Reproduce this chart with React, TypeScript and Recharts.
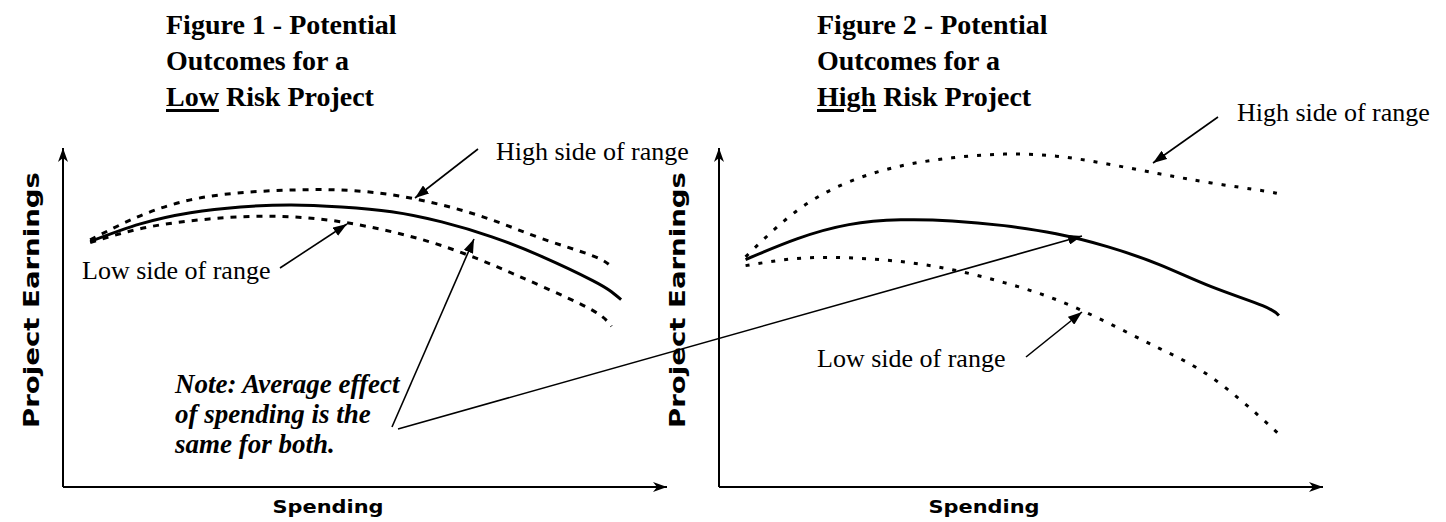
import { Line, LineChart, XAxis, YAxis } from "recharts";

// Spending positions (0–100 along each x axis) and earnings (0–100 up the y axis)
const spendLowRisk = [4.5, 12.8, 21.1, 29.4, 37.8, 46.1, 54.4, 62.7, 71.0, 79.4, 87.7, 90.8, 92.4];
const lowRiskAverage = [72.4, 77.6, 80.9, 82.6, 83.2, 82.6, 81.2, 78.2, 73.8, 67.9, 60.9, 57.6, 55.3];
const lowRiskHighSide = [72.9, 80.0, 84.7, 86.8, 87.6, 87.6, 86.2, 83.2, 78.8, 73.2, 68.2, 65.0, null];
const lowRiskLowSide = [72.1, 76.2, 78.5, 79.7, 79.7, 78.2, 75.3, 71.2, 65.6, 59.1, 52.1, 47.4, null];

const spendHighRisk = [4.4, 12.9, 21.5, 30.1, 38.6, 47.2, 55.8, 64.3, 72.9, 81.5, 90.0, 92.7];
const highRiskAverage = [67.1, 73.2, 77.4, 78.8, 78.5, 77.1, 74.7, 70.9, 65.6, 59.1, 53.5, 50.6];
const highRiskHighSide = [67.9, 81.5, 90.0, 94.7, 97.1, 98.2, 97.6, 95.3, 92.4, 89.7, 87.4, 86.5];
const highRiskLowSide = [65.3, 67.4, 67.6, 66.5, 64.1, 60.3, 55.3, 48.5, 40.9, 32.4, 20.0, 15.6];

const titles = [
  { lead: "Figure 1 - Potential", mid: "Outcomes for a", key: "Low", rest: " Risk Project" },
  { lead: "Figure 2 - Potential", mid: "Outcomes for a", key: "High", rest: " Risk Project" },
];
const noteLines = ["Note: Average effect", "of spending is the", "same for both."];

const rows = (spend: number[], avg: (number | null)[], hi: (number | null)[], lo: (number | null)[]) =>
  spend.map((s, i) => ({ spend: s, average: avg[i], high: hi[i], low: lo[i] }));

const lowRiskData = rows(spendLowRisk, lowRiskAverage, lowRiskHighSide, lowRiskLowSide);
const highRiskData = rows(spendHighRisk, highRiskAverage, highRiskHighSide, highRiskLowSide);

const W = 1446;
const H = 522;
const SERIF = "'Liberation Serif', 'Times New Roman', serif";
const HEAVY = "'DejaVu Sans', sans-serif";

function Panel({
  data,
  left,
  right,
  dash,
}: {
  data: typeof lowRiskData;
  left: number;
  right: number;
  dash: string;
}) {
  return (
    <div style={{ position: "absolute", left: 0, top: 0 }}>
      <LineChart width={W} height={H} data={data} margin={{ top: 148, bottom: H - 488, left: left - 1, right }}>
        <XAxis
          type="number"
          dataKey="spend"
          domain={[0, 100]}
          allowDataOverflow
          tick={false}
          tickLine={false}
          height={1}
          axisLine={{ stroke: "#000", strokeWidth: 2, markerEnd: "url(#axisHead)" }}
        />
        <YAxis
          type="number"
          domain={[0, 100]}
          allowDataOverflow
          tick={false}
          tickLine={false}
          width={1}
          axisLine={{ stroke: "#000", strokeWidth: 2, markerStart: "url(#axisHead)" }}
        />
        <Line type="natural" dataKey="high" stroke="#000" strokeWidth={3} strokeDasharray={dash} dot={false} isAnimationActive={false} />
        <Line type="natural" dataKey="low" stroke="#000" strokeWidth={3} strokeDasharray={dash} dot={false} isAnimationActive={false} />
        <Line type="natural" dataKey="average" stroke="#000" strokeWidth={3} dot={false} isAnimationActive={false} />
      </LineChart>
    </div>
  );
}

function Title({ t, x }: { t: (typeof titles)[number]; x: number }) {
  return (
    <div
      style={{
        position: "absolute",
        left: x,
        top: 7,
        fontFamily: SERIF,
        fontWeight: "bold",
        fontSize: 28,
        lineHeight: "36px",
        whiteSpace: "nowrap",
      }}
    >
      {t.lead}
      <br />
      {t.mid}
      <br />
      <span style={{ textDecoration: "underline", textDecorationThickness: 3, textUnderlineOffset: 3 }}>{t.key}</span>
      {t.rest}
    </div>
  );
}

const Arrow = ({ x1, y1, x2, y2 }: { x1: number; y1: number; x2: number; y2: number }) => (
  <line x1={x1} y1={y1} x2={x2} y2={y2} stroke="#000" strokeWidth={1.6} markerEnd="url(#noteHead)" />
);

export default function App() {
  return (
    <div style={{ position: "absolute", left: 0, top: 0, width: W, height: H, background: "#fff", overflow: "hidden" }}>
      <Panel data={lowRiskData} left={63} right={W - 667} dash="6 7" />
      <Panel data={highRiskData} left={719} right={W - 1323} dash="4 9" />
      <Title t={titles[0]} x={166} />
      <Title t={titles[1]} x={817} />
      <svg width={W} height={H} style={{ position: "absolute", left: 0, top: 0 }}>
        <defs>
          <marker id="axisHead" viewBox="0 0 14 10" refX="14" refY="5" markerWidth="14" markerHeight="10" markerUnits="userSpaceOnUse" orient="auto-start-reverse">
            <path d="M0,0 L14,5 L0,10 L4,5 Z" fill="#000" />
          </marker>
          <marker id="noteHead" viewBox="0 0 14 10" refX="14" refY="5" markerWidth="14" markerHeight="10" markerUnits="userSpaceOnUse" orient="auto">
            <path d="M0,0 L14,5 L0,10 Z" fill="#000" />
          </marker>
        </defs>

        {/* axis titles */}
        {[32, 678].map((cx) => (
          <text
            key={cx}
            transform={`translate(${cx},300) rotate(-90)`}
            textAnchor="middle"
            dominantBaseline="central"
            fontFamily={HEAVY}
            fontWeight="bold"
            fontSize={21}
            textLength={256}
            lengthAdjust="spacingAndGlyphs"
          >
            Project Earnings
          </text>
        ))}
        {[328, 984].map((cx) => (
          <text
            key={cx}
            x={cx}
            y={513}
            textAnchor="middle"
            fontFamily={HEAVY}
            fontWeight="bold"
            fontSize={18}
            textLength={111}
            lengthAdjust="spacingAndGlyphs"
          >
            Spending
          </text>
        ))}

        {/* range labels */}
        <g fontFamily={SERIF} fontSize={26}>
          <text x={496} y={160}>High side of range</text>
          <text x={82} y={279}>Low side of range</text>
          <text x={1237} y={121}>High side of range</text>
          <text x={817} y={367}>Low side of range</text>
        </g>
        <Arrow x1={478} y1={149} x2={415} y2={198} />
        <Arrow x1={280} y1={268} x2={347} y2={224} />
        <Arrow x1={1218} y1={117} x2={1153} y2={163} />
        <Arrow x1={1026} y1={357} x2={1082} y2={312} />

        {/* note */}
        <g fontFamily={SERIF} fontSize={27} fontWeight="bold" fontStyle="italic">
          {noteLines.map((l, i) => (
            <text key={l} x={175} y={393 + i * 30}>
              {l}
            </text>
          ))}
        </g>
        <Arrow x1={392} y1={427} x2={474} y2={239} />
        <Arrow x1={398} y1={429} x2={1082} y2={236} />
      </svg>
    </div>
  );
}
